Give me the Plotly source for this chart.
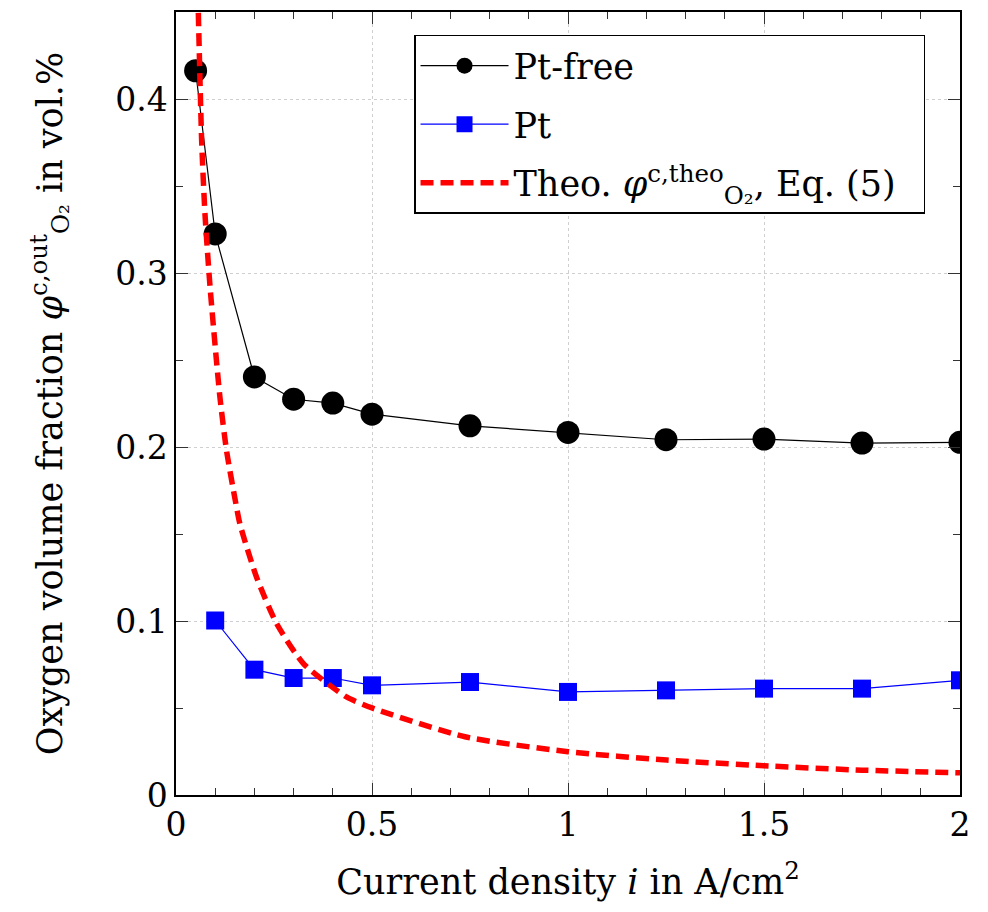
import plotly.graph_objects as go

# Data
x_ptfree = [0.05, 0.1, 0.2, 0.3, 0.4, 0.5, 0.75, 1.0, 1.25, 1.5, 1.75, 2.0]
y_ptfree = [0.4167, 0.3228, 0.2405, 0.2277, 0.2255, 0.2191, 0.2124, 0.2086, 0.2044, 0.2048, 0.2025, 0.2029]

x_pt = [0.1, 0.2, 0.3, 0.4, 0.5, 0.75, 1.0, 1.25, 1.5, 1.75, 2.0]
y_pt = [0.1004, 0.0721, 0.0673, 0.0673, 0.0631, 0.0650, 0.0593, 0.0602, 0.0612, 0.0612, 0.0660]

x_theo = [0.057, 0.0655, 0.074, 0.087, 0.112, 0.129, 0.150, 0.163, 0.206, 0.257, 0.325,
          0.435, 0.5, 0.737, 1.0, 1.252, 1.5, 1.75, 2.0]
y_theo = [0.45, 0.376, 0.334, 0.292, 0.229, 0.198, 0.171, 0.156, 0.125, 0.0985, 0.0756,
          0.0564, 0.0501, 0.0335, 0.0249, 0.0201, 0.0168, 0.0143, 0.0128]

x_tickvals = [0, 0.5, 1, 1.5, 2]
x_ticktext = ["0", "0.5", "1", "1.5", "2"]
y_tickvals = [0, 0.1, 0.2, 0.3, 0.4]
y_ticktext = ["0", "0.1", "0.2", "0.3", "0.4"]

FONT = "DejaVu Serif"

fig = go.Figure()
fig.add_trace(go.Scatter(
    x=x_ptfree, y=y_ptfree, mode="lines+markers", name="Pt-free", legendgroup="a",
    line=dict(color="black", width=1.2),
    marker=dict(symbol="circle", size=23, color="black"),
))
fig.add_trace(go.Scatter(
    x=x_pt, y=y_pt, mode="lines+markers", name="Pt", legendgroup="b",
    line=dict(color="#0000ff", width=1.2),
    marker=dict(symbol="square", size=18, color="#0000ff"),
))
fig.add_trace(go.Scatter(
    x=x_theo, y=y_theo, mode="lines", legendgroup="c",
    name="Theo. <i>φ</i><sup>c,theo</sup><sub>O₂</sub>, Eq. (5)  ",
    line=dict(color="#ff0000", width=5.5, dash="13px,7px", shape="spline", smoothing=0.6),
))

axis_common = dict(
    showline=True, linecolor="black", linewidth=1.5, mirror="allticks",
    ticks="inside", ticklen=12, tickwidth=1.2, tickcolor="#333",
    showgrid=True, gridcolor="#cfcfcf", griddash="dot", gridwidth=1,
    zeroline=False,
    tickfont=dict(family=FONT, size=33, color="black"),
)

fig.update_xaxes(
    range=[0, 2], tickvals=x_tickvals, ticktext=x_ticktext,
    minor=dict(ticks="inside", dtick=0.1, ticklen=7, tickwidth=1, tickcolor="#333", showgrid=False),
    title=dict(text="Current density <i>i</i> in A/cm<sup>2</sup>",
               font=dict(family=FONT, size=35, color="black"), standoff=26),
    **axis_common,
)
fig.update_yaxes(
    range=[0, 0.4505], tickvals=y_tickvals, ticktext=y_ticktext,
    minor=dict(ticks="inside", dtick=0.05, ticklen=7, tickwidth=1, tickcolor="#333", showgrid=False),
    title=dict(text="Oxygen volume fraction <i>φ</i><sup>c,out</sup><sub>O₂</sub> in vol.%",
               font=dict(family=FONT, size=35, color="black"), standoff=42),
    **axis_common,
)

fig.update_layout(
    width=988, height=912,
    margin=dict(l=176, r=28, t=10, b=117),
    paper_bgcolor="white", plot_bgcolor="white",
    showlegend=True,
    legend=dict(
        x=0.3036, y=0.9707, xanchor="left", yanchor="top",
        bgcolor="white", bordercolor="black", borderwidth=1.5,
        font=dict(family=FONT, size=35, color="black"),
        itemwidth=88, tracegroupgap=10,
    ),
)

fig.write_html("out.html")
